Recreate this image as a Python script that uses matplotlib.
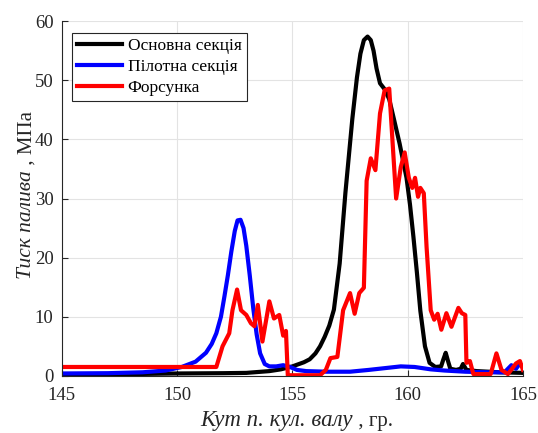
import matplotlib
matplotlib.use("Agg")
import matplotlib.pyplot as plt

# crank angle (deg) and fuel pressure (MPa)
main_x = [145, 148, 150, 152, 153, 154, 154.5, 155, 155.5, 155.75, 156.0, 156.2,
          156.4, 156.6, 156.8, 157.05, 157.3, 157.6, 157.8, 157.95, 158.1, 158.26,
          158.4, 158.52, 158.65, 158.8, 159.0, 159.2, 159.4, 159.65, 159.95, 160.1,
          160.25, 160.4, 160.55, 160.75, 160.95, 161.2, 161.45, 161.55, 161.65,
          161.75, 161.85, 162.1, 162.3, 162.4, 162.55, 163, 164, 165]
main_y = [0.3, 0.3, 0.4, 0.45, 0.5, 0.8, 1.1, 1.6, 2.3, 2.8, 3.8, 5.0,
          6.6, 8.5, 11.2, 19, 31, 43.5, 50.5, 54.5, 56.8, 57.4,
          56.8, 55, 52, 49.5, 48.5, 46.8, 43.5, 39.3, 33.5, 29,
          23.5, 17.5, 11, 5, 2.2, 1.5, 1.6, 2.8, 3.9,
          2.5, 1.2, 1.0, 1.2, 2.0, 1.0, 0.8, 0.6, 0.5]

pilot_x = [145, 147, 148.5, 149.5, 150.2, 150.8, 151.25, 151.5, 151.7, 151.9,
           152.05, 152.2, 152.35, 152.5, 152.62, 152.75, 152.88, 153.0, 153.15,
           153.3, 153.45, 153.6, 153.8, 154.0, 154.3, 154.6, 154.9, 155.2, 155.6,
           156.5, 157.5, 158.3, 159.0, 159.7, 160.3, 161.0, 161.6, 162.5, 163.5,
           164.2, 164.5, 164.7, 164.85, 165]
pilot_y = [0.4, 0.45, 0.6, 0.9, 1.5, 2.4, 3.9, 5.4, 7.2, 10,
           13.4, 17, 21, 24.5, 26.3, 26.4, 25, 22, 17,
           11.5, 7, 3.8, 2.0, 1.6, 1.6, 1.8, 1.5, 1.0, 0.8,
           0.7, 0.7, 1.0, 1.3, 1.6, 1.5, 1.1, 0.9, 0.7, 0.6,
           0.6, 1.8, 1.2, 2.0, 1.5]

inj_x = [145, 151.7, 151.97, 152.26, 152.4, 152.6, 152.77, 153.0, 153.2, 153.35,
         153.5, 153.7, 154.0, 154.2, 154.43, 154.6, 154.72, 154.8, 155.0, 156.2,
         156.45, 156.65, 156.95, 157.2, 157.5, 157.7, 157.9, 158.1, 158.22, 158.4,
         158.6, 158.8, 159.0, 159.2, 159.36, 159.5, 159.7, 159.87, 160.05, 160.2,
         160.32, 160.45, 160.55, 160.7, 160.82, 161.0, 161.15, 161.3, 161.46,
         161.68, 161.9, 162.2, 162.35, 162.5, 162.55, 162.7, 162.85, 163.6,
         163.85, 164.07, 164.35, 164.7, 164.87, 165]
inj_y = [1.5, 1.5, 5, 7.2, 11.1, 14.6, 11.1, 10.3, 8.9, 8.4,
         12, 5.8, 12.6, 9.7, 10.3, 6.8, 7.6, 0.1, 0.1, 0.1,
         1.0, 3.0, 3.2, 11.1, 14, 10.5, 14, 14.9, 33, 36.8,
         34.8, 44.4, 48.3, 48.6, 38.6, 30, 35.3, 37.8, 33.5, 31.8,
         33.5, 30.3, 31.8, 30.9, 21.8, 11.1, 9.5, 10.5, 7.8,
         10.6, 8.3, 11.5, 10.6, 10.3, 2.2, 2.5, 0.3, 0.3,
         3.8, 1.0, 0.3, 2.1, 2.5, 1.0]

labels = ["Основна секція", "Пілотна секція", "Форсунка"]
colors = ["black", "#0000ff", "#ff0000"]

plt.rcParams["font.family"] = ["Liberation Serif", "DejaVu Serif"]

fig = plt.figure(figsize=(5.38, 4.33), dpi=100)
ax = fig.add_axes([0.115, 0.132, 0.857, 0.819])

for xs, ys, lab, c in zip([main_x, pilot_x, inj_x], [main_y, pilot_y, inj_y], labels, colors):
    ax.plot(xs, ys, color=c, lw=3.0, label=lab, solid_joinstyle="round")

ax.set_xlim(145, 165)
ax.set_ylim(0, 60)
ax.set_xticks([145, 150, 155, 160, 165])
ax.set_yticks(range(0, 61, 10))
ax.grid(True, color="#e3e3e3", lw=0.8)
ax.set_axisbelow(True)
for s in ["top", "right"]:
    ax.spines[s].set_visible(False)
for s in ["left", "bottom"]:
    ax.spines[s].set_color("#262626")
    ax.spines[s].set_linewidth(0.8)
ax.tick_params(direction="in", length=4, width=0.8, colors="#262626",
               labelsize=13.5)
ax.tick_params(axis="x", pad=8)
ax.tick_params(axis="y", pad=6)

leg = ax.legend(loc="upper left", bbox_to_anchor=(0.022, 0.968), fontsize=12.5,
                fancybox=False, framealpha=1, edgecolor="#262626",
                handlelength=2.6, handletextpad=0.3, borderpad=0.3,
                labelspacing=0.28, borderaxespad=0.0)
leg.get_frame().set_linewidth(0.8)

# axis labels: italic part + upright units
tx = fig.text(0.372, 0.016, "Кут п. кул. валу", style="italic", fontsize=16.5,
              color="#262626", ha="left", va="baseline")
ax.annotate(" , гр.", xy=(1, 0), xycoords=tx, fontsize=15, color="#262626",
            ha="left", va="bottom")
ty = fig.text(0.05, 0.356, "Тиск палива", style="italic", fontsize=15.5,
              color="#262626", rotation=90, ha="center", va="bottom")
ax.annotate(" , МПа", xy=(0.5, 1), xycoords=ty, fontsize=15, color="#262626",
            rotation=90, ha="center", va="bottom")

fig.savefig("out.png", dpi=100)
